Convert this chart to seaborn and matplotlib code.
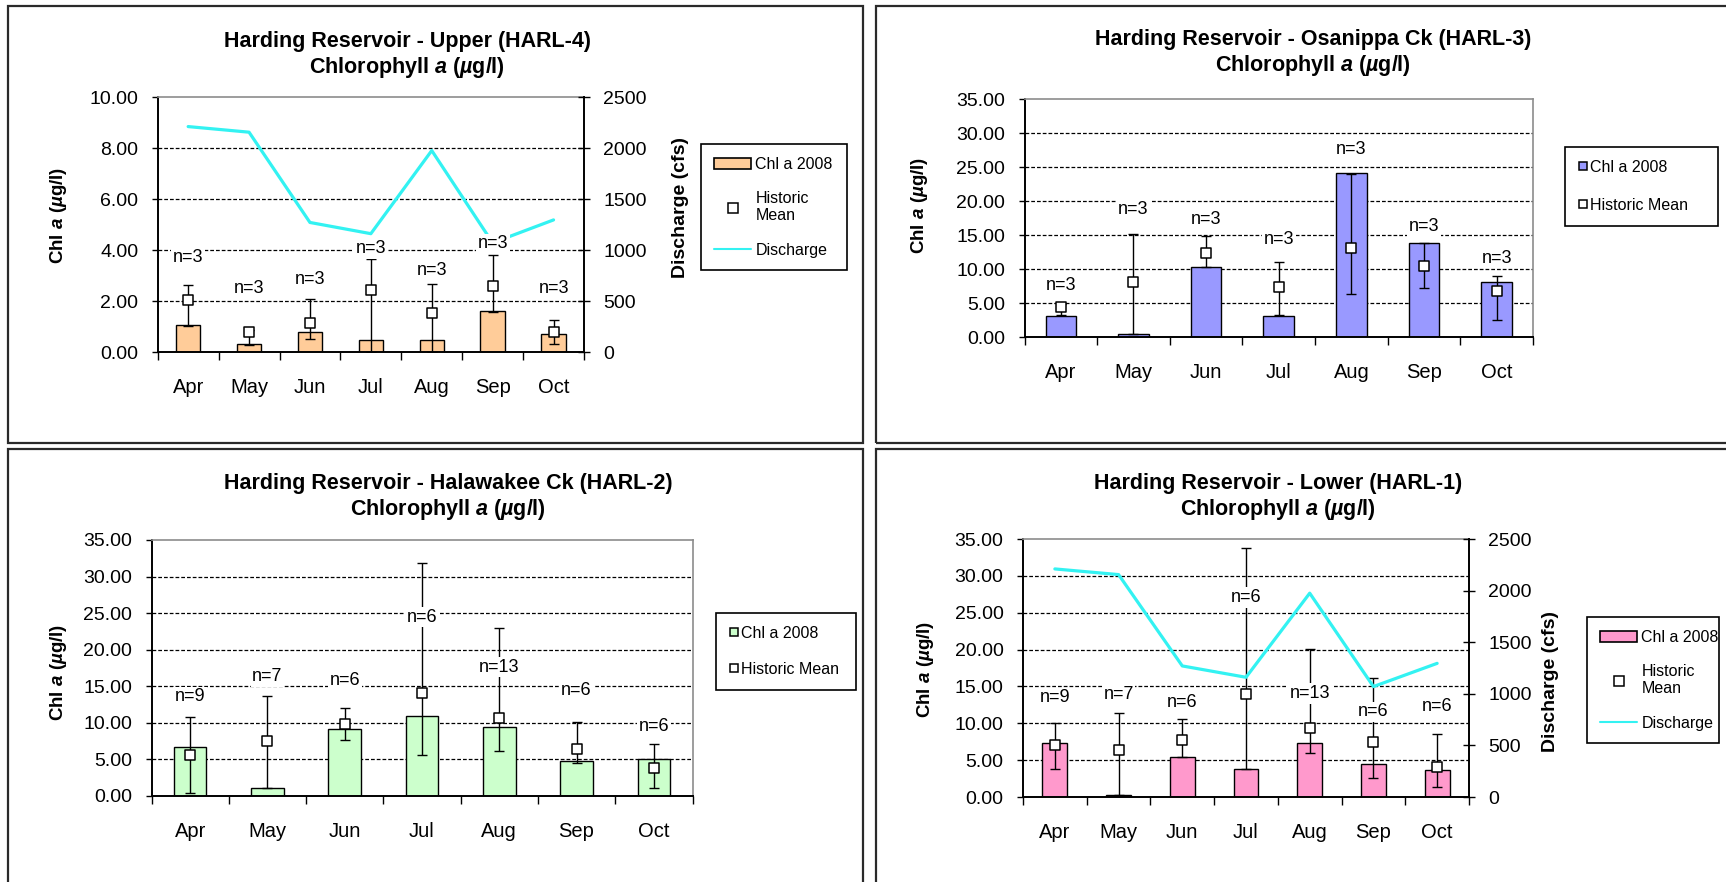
import numpy as np
import pandas as pd
import matplotlib
matplotlib.use("Agg")
import matplotlib.pyplot as plt
from matplotlib.patches import Rectangle, Patch
from matplotlib.lines import Line2D
from matplotlib.ticker import FormatStrFormatter
import seaborn as sns

# ---------------------------------------------------------------- data
months = ["Apr", "May", "Jun", "Jul", "Aug", "Sep", "Oct"]

# Harding Reservoir discharge (cfs), shared by the Upper and Lower sites
discharge = [2210, 2155, 1270, 1160, 1975, 1070, 1295]

# HARL-4  Upper
harl4_chl = [1.06, 0.31, 0.78, 0.47, 0.47, 1.60, 0.72]
harl4_mean = [2.04, 0.80, 1.15, 2.43, 1.52, 2.59, 0.80]
harl4_low = [1.03, 0.27, 0.50, 0.00, 0.00, 1.55, 0.31]
harl4_high = [2.63, 0.85, 2.08, 3.64, 2.67, 3.80, 1.25]
harl4_n = [3, 3, 3, 3, 3, 3, 3]
harl4_n_label_y = [3.70, 2.50, 2.85, 4.05, 3.20, 4.25, 2.50]

# HARL-3  Osanippa Ck
harl3_chl = [3.13, 0.49, 10.28, 3.13, 24.08, 13.80, 8.02]
harl3_mean = [4.40, 8.02, 12.42, 7.34, 13.07, 10.37, 6.70]
harl3_low = [3.30, 0.40, 10.28, 3.20, 6.31, 7.20, 2.44]
harl3_high = [4.80, 15.13, 14.90, 11.10, 23.90, 13.80, 9.00]
harl3_n = [3, 3, 3, 3, 3, 3, 3]
harl3_n_label_y = [7.58, 18.70, 17.23, 14.30, 27.50, 16.24, 11.60]

# HARL-2  Halawakee Ck
harl2_chl = [6.66, 1.05, 9.11, 10.94, 9.39, 4.79, 5.01]
harl2_mean = [5.60, 7.57, 9.84, 14.13, 10.71, 6.38, 3.78]
harl2_low = [0.46, 1.05, 7.66, 5.60, 6.20, 4.47, 1.05]
harl2_high = [10.76, 13.67, 11.99, 31.90, 22.93, 10.07, 7.07]
harl2_n = [9, 7, 6, 6, 13, 6, 6]
harl2_n_label_y = [13.58, 16.31, 15.77, 24.43, 17.60, 14.49, 9.57]

# HARL-1  Lower
harl1_chl = [7.33, 0.23, 5.43, 3.76, 7.33, 4.44, 3.62]
harl1_mean = [7.11, 6.43, 7.79, 13.95, 9.42, 7.47, 4.08]
harl1_low = [3.85, 0.23, 5.40, 3.76, 6.03, 2.58, 1.36]
harl1_high = [10.05, 11.41, 10.64, 33.82, 20.02, 16.16, 8.51]
harl1_n = [9, 7, 6, 6, 13, 6, 6]
harl1_n_label_y = [13.46, 13.91, 12.82, 27.08, 14.04, 11.55, 12.23]

# ---------------------------------------------------------------- style
sns.set_style("white")
plt.rcParams["font.family"] = ["Liberation Sans", "DejaVu Sans"]
plt.rcParams["mathtext.fontset"] = "custom"
plt.rcParams["mathtext.rm"] = "Liberation Sans"
plt.rcParams["mathtext.bf"] = "Liberation Sans:bold"
plt.rcParams["mathtext.it"] = "Liberation Sans:italic"
plt.rcParams["mathtext.bfit"] = "Liberation Sans:italic:bold"
for key in ("text.color", "axes.labelcolor", "xtick.color", "ytick.color"):
    plt.rcParams[key] = "black"

W, H = 1726, 882
fig = plt.figure(figsize=(W / 100, H / 100), dpi=100)


def fx(px):
    return px / W


def fy(py):
    return 1 - py / H


CYAN = "#33F2F2"
TITLE2 = r"$\mathbf{Chlorophyll}\ \mathbfit{a}\ \mathbf{(}\mathbfit{µ}\mathbf{g/l)}$"
YLABEL = r"$\mathbf{Chl}\ \mathbfit{a}\ \mathbf{(}\mathbfit{µ}\mathbf{g/l)}$"


def draw_panel(frame, box, title, title_x, title_y, ylabel_xy, legend_box,
               chl, mean, low, high, n, n_label_y, color, bar_width,
               ymax, ystep, flow=None, rlabel_xy=None, labelspacing=1.2):
    # panel frame
    fx0, fy0, fx1, fy1 = frame
    fig.add_artist(Rectangle((fx(fx0), fy(fy1)), (fx1 - fx0) / W, (fy1 - fy0) / H,
                             transform=fig.transFigure, fill=False,
                             edgecolor="#2a2a2a", linewidth=1.6, zorder=0))

    left, top, right, bottom = box
    ax = fig.add_axes([fx(left), fy(bottom), (right - left) / W, (bottom - top) / H])
    pos = np.arange(len(months))
    df = pd.DataFrame({"pos": pos, "chl": chl})
    sns.barplot(data=df, x="pos", y="chl", native_scale=True, color=color,
                saturation=1, width=bar_width, edgecolor="black", linewidth=1.0,
                errorbar=None, ax=ax, zorder=2)

    mean = np.asarray(mean)
    yerr = [np.clip(mean - np.asarray(low), 0, None),
            np.clip(np.asarray(high) - mean, 0, None)]
    ax.errorbar(pos, mean, yerr=yerr, fmt="none", ecolor="black",
                elinewidth=1.0, capsize=3.3, capthick=1.0, zorder=3)
    sns.scatterplot(x=pos, y=mean, marker="s", s=58, color="white",
                    edgecolor="black", linewidth=1.1, ax=ax, zorder=4,
                    legend=False)

    ax.set_xlim(-0.5, len(months) - 0.5)
    ax.set_ylim(0, ymax)
    yt = np.arange(0, ymax + ystep / 2, ystep)
    ax.set_yticks(yt)
    ax.yaxis.set_major_formatter(FormatStrFormatter("%.2f"))
    for v in yt[1:-1]:
        ax.axhline(v, color="black", linewidth=0.9, linestyle=(0, (3, 1.6)),
                   zorder=1)
    ax.grid(False)

    ax.set_xticks(pos)
    ax.set_xticklabels(months)
    ax.set_xticks(np.arange(-0.5, len(months)), minor=True)
    ax.tick_params(axis="x", which="major", length=0, pad=18.5, labelsize=14.5)
    ax.tick_params(axis="x", which="minor", bottom=True, length=6, width=1.0,
                   direction="out", color="black")
    ax.tick_params(axis="y", which="major", left=True, length=4.5, width=1.0,
                   direction="out", pad=9.5, labelsize=14, color="black")
    ax.set_xlabel("")
    ax.set_ylabel("")

    for s in ("left", "bottom"):
        ax.spines[s].set_color("black")
        ax.spines[s].set_linewidth(1.4)
    ax.spines["top"].set_color("#8c8c8c")
    ax.spines["top"].set_linewidth(1.2)
    ax.spines["right"].set_color("#8c8c8c")
    ax.spines["right"].set_linewidth(1.2)

    text_ax = ax
    if flow is not None:
        ax2 = ax.twinx()
        sns.lineplot(x=pos, y=flow, ax=ax2, color=CYAN, linewidth=2.3,
                     legend=False, zorder=2)
        ax2.set_xlim(-0.5, len(months) - 0.5)
        ax2.set_ylim(0, 2500)
        ax2.set_yticks(np.arange(0, 2501, 500))
        ax2.tick_params(axis="y", right=True, length=9, width=1.0,
                        direction="inout", pad=9.5, labelsize=14, color="black")
        ax2.set_ylabel("")
        ax2.grid(False)
        for s in ("left", "top", "bottom"):
            ax2.spines[s].set_visible(False)
        ax2.spines["right"].set_color("black")
        ax2.spines["right"].set_linewidth(1.4)
        ax.spines["right"].set_visible(False)
        text_ax = ax2
        fig.text(fx(rlabel_xy[0]), fy(rlabel_xy[1]), "Discharge (cfs)",
                 rotation=90, ha="center", va="center", fontsize=14,
                 fontweight="bold")

    for p, yv, k in zip(pos, n_label_y, n):
        text_ax.text(p, yv, f"n={k}", transform=ax.transData, ha="center",
                     va="center", fontsize=13, zorder=6,
                     bbox=dict(facecolor="white", edgecolor="none", pad=1.2))

    # titles and axis label
    fig.text(fx(title_x), fy(title_y[0]), title, ha="center", va="center",
             fontsize=15.5, fontweight="bold")
    fig.text(fx(title_x), fy(title_y[1]), TITLE2, ha="center", va="center",
             fontsize=15.5)
    fig.text(fx(ylabel_xy[0]), fy(ylabel_xy[1]), YLABEL, rotation=90,
             ha="center", va="center", fontsize=13.5)

    # legend
    lx0, ly0, lx1, ly1 = legend_box
    anchor = (fx(lx0), fy(ly1), (lx1 - lx0) / W, (ly1 - ly0) / H)
    if flow is not None:
        handles = [Patch(facecolor=color, edgecolor="black", linewidth=1.2),
                   Line2D([], [], marker="s", linestyle="none",
                          markerfacecolor="white", markeredgecolor="black",
                          markersize=6.5, markeredgewidth=1.1),
                   Line2D([], [], color=CYAN, linewidth=1.5)]
        labels = ["Chl a 2008", "Historic\nMean", "Discharge"]
        leg = fig.legend(handles, labels, loc="upper left",
                         bbox_to_anchor=anchor, bbox_transform=fig.transFigure,
                         mode="expand", borderaxespad=0, fontsize=11.5,
                         handlelength=2.35, handleheight=0.7,
                         handletextpad=0.25, borderpad=0.8,
                         labelspacing=labelspacing, frameon=True,
                         fancybox=False, shadow=False, framealpha=1)
    else:
        handles = [Line2D([], [], marker="s", linestyle="none",
                          markerfacecolor=color, markeredgecolor="black",
                          markersize=6, markeredgewidth=1.1),
                   Line2D([], [], marker="s", linestyle="none",
                          markerfacecolor="white", markeredgecolor="black",
                          markersize=6, markeredgewidth=1.1)]
        labels = ["Chl a 2008", "Historic Mean"]
        leg = fig.legend(handles, labels, loc="upper left",
                         bbox_to_anchor=anchor, bbox_transform=fig.transFigure,
                         mode="expand", borderaxespad=0, fontsize=11.5,
                         handlelength=0.6, handletextpad=0.15, borderpad=0.8,
                         labelspacing=labelspacing, frameon=True,
                         fancybox=False, shadow=False, framealpha=1)
    leg.get_frame().set_edgecolor("black")
    leg.get_frame().set_linewidth(1.2)
    return ax


draw_panel(frame=(8, 6, 863, 443), box=(157.7, 97, 584, 352),
           title="Harding Reservoir - Upper (HARL-4)", title_x=407,
           title_y=(42, 67), ylabel_xy=(58, 215), legend_box=(701, 144, 847, 283),
           chl=harl4_chl, mean=harl4_mean, low=harl4_low, high=harl4_high,
           n=harl4_n, n_label_y=harl4_n_label_y, color="#FFCC99",
           bar_width=0.40, ymax=10, ystep=2, flow=discharge,
           rlabel_xy=(680, 208), labelspacing=1.2)

draw_panel(frame=(876, 6, 1740, 443), box=(1024.5, 99, 1533, 337),
           title="Harding Reservoir - Osanippa Ck (HARL-3)", title_x=1313,
           title_y=(40, 65), ylabel_xy=(919, 205), legend_box=(1565, 147, 1718, 232),
           chl=harl3_chl, mean=harl3_mean, low=harl3_low, high=harl3_high,
           n=harl3_n, n_label_y=harl3_n_label_y, color="#9999FF",
           bar_width=0.42, ymax=35, ystep=5, labelspacing=1.45)

draw_panel(frame=(8, 449, 863, 895), box=(151.5, 540, 692.5, 796),
           title="Harding Reservoir - Halawakee Ck (HARL-2)", title_x=448,
           title_y=(483, 510), ylabel_xy=(58, 672), legend_box=(716, 613, 856, 693),
           chl=harl2_chl, mean=harl2_mean, low=harl2_low, high=harl2_high,
           n=harl2_n, n_label_y=harl2_n_label_y, color="#CCFFCC",
           bar_width=0.42, ymax=35, ystep=5, labelspacing=1.33)

draw_panel(frame=(876, 449, 1740, 895), box=(1023, 539, 1469, 797),
           title="Harding Reservoir - Lower (HARL-1)", title_x=1278,
           title_y=(483, 509), ylabel_xy=(925, 669), legend_box=(1587, 617, 1719, 755),
           chl=harl1_chl, mean=harl1_mean, low=harl1_low, high=harl1_high,
           n=harl1_n, n_label_y=harl1_n_label_y, color="#FF99CC",
           bar_width=0.39, ymax=35, ystep=5, flow=discharge,
           rlabel_xy=(1550, 682), labelspacing=1.2)

fig.savefig("out.png", dpi=100, facecolor="white")
